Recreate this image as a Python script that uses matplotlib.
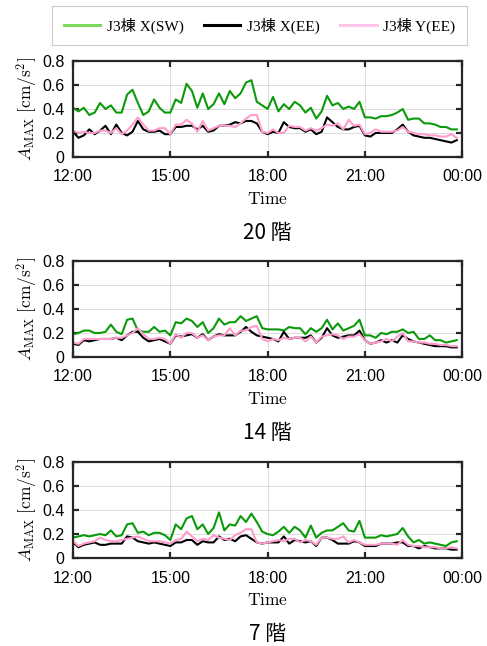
import numpy as np
import matplotlib
matplotlib.use("Agg")
import matplotlib.pyplot as plt
from matplotlib.lines import Line2D

plt.rcParams['mathtext.fontset'] = 'cm'

# 10-minute samples from 12:00 to 23:50
t = np.arange(72) / 6.0  # hours after 12:00

floors = ["20 階", "14 階", "7 階"]
series_names = ["J3棟 X(SW)", "J3棟 X(EE)", "J3棟 Y(EE)"]

f20_x_sw = [0.41, 0.38, 0.41, 0.35, 0.37, 0.45, 0.40, 0.43, 0.37, 0.37, 0.52, 0.56, 0.45, 0.35, 0.38, 0.48, 0.41, 0.37,
            0.37, 0.48, 0.45, 0.61, 0.55, 0.41, 0.53, 0.40, 0.44, 0.53, 0.44, 0.55, 0.49, 0.53, 0.62, 0.64, 0.46, 0.43,
            0.40, 0.50, 0.38, 0.44, 0.40, 0.46, 0.43, 0.37, 0.41, 0.32, 0.38, 0.51, 0.43, 0.45, 0.40, 0.42, 0.40, 0.46,
            0.33, 0.33, 0.32, 0.34, 0.34, 0.35, 0.37, 0.40, 0.31, 0.32, 0.32, 0.28, 0.28, 0.27, 0.25, 0.25, 0.23, 0.23]
f20_x_ee = [0.21, 0.16, 0.18, 0.23, 0.19, 0.22, 0.26, 0.19, 0.27, 0.20, 0.18, 0.21, 0.30, 0.23, 0.21, 0.21, 0.22, 0.19,
            0.19, 0.25, 0.25, 0.26, 0.26, 0.23, 0.26, 0.21, 0.22, 0.26, 0.26, 0.27, 0.29, 0.28, 0.30, 0.30, 0.28, 0.21,
            0.19, 0.21, 0.20, 0.29, 0.25, 0.24, 0.24, 0.21, 0.23, 0.19, 0.21, 0.33, 0.29, 0.25, 0.23, 0.23, 0.25, 0.26,
            0.18, 0.17, 0.20, 0.20, 0.20, 0.20, 0.23, 0.27, 0.21, 0.18, 0.17, 0.16, 0.16, 0.15, 0.14, 0.13, 0.12, 0.14]
f20_y_ee = [0.22, 0.20, 0.21, 0.20, 0.20, 0.22, 0.22, 0.20, 0.24, 0.19, 0.22, 0.27, 0.33, 0.27, 0.22, 0.22, 0.24, 0.24,
            0.19, 0.27, 0.27, 0.31, 0.28, 0.21, 0.30, 0.22, 0.24, 0.26, 0.26, 0.26, 0.25, 0.28, 0.32, 0.35, 0.35, 0.21,
            0.20, 0.23, 0.20, 0.20, 0.26, 0.25, 0.25, 0.22, 0.24, 0.22, 0.24, 0.27, 0.26, 0.28, 0.23, 0.31, 0.26, 0.27,
            0.19, 0.20, 0.23, 0.21, 0.21, 0.21, 0.22, 0.25, 0.21, 0.20, 0.19, 0.19, 0.18, 0.18, 0.17, 0.17, 0.19, 0.16]

f14_x_sw = [0.19, 0.20, 0.22, 0.22, 0.20, 0.20, 0.21, 0.27, 0.21, 0.19, 0.31, 0.32, 0.22, 0.21, 0.21, 0.25, 0.21, 0.22,
            0.18, 0.29, 0.28, 0.32, 0.30, 0.25, 0.29, 0.20, 0.24, 0.32, 0.27, 0.29, 0.29, 0.34, 0.30, 0.32, 0.34, 0.24,
            0.23, 0.23, 0.23, 0.22, 0.25, 0.24, 0.24, 0.19, 0.24, 0.21, 0.24, 0.31, 0.23, 0.28, 0.22, 0.24, 0.26, 0.31,
            0.18, 0.18, 0.16, 0.20, 0.19, 0.21, 0.21, 0.23, 0.20, 0.21, 0.15, 0.15, 0.18, 0.14, 0.14, 0.12, 0.13, 0.14]
f14_x_ee = [0.11, 0.10, 0.14, 0.13, 0.14, 0.15, 0.15, 0.15, 0.16, 0.14, 0.18, 0.21, 0.21, 0.16, 0.13, 0.14, 0.15, 0.13,
            0.11, 0.18, 0.17, 0.18, 0.19, 0.16, 0.19, 0.14, 0.17, 0.19, 0.18, 0.18, 0.18, 0.21, 0.25, 0.21, 0.18, 0.17,
            0.16, 0.15, 0.13, 0.21, 0.15, 0.16, 0.16, 0.16, 0.18, 0.12, 0.16, 0.24, 0.18, 0.16, 0.17, 0.18, 0.18, 0.22,
            0.14, 0.11, 0.12, 0.14, 0.12, 0.14, 0.12, 0.18, 0.15, 0.13, 0.12, 0.11, 0.10, 0.09, 0.09, 0.09, 0.08, 0.08]
f14_y_ee = [0.12, 0.11, 0.15, 0.15, 0.15, 0.15, 0.15, 0.15, 0.16, 0.16, 0.18, 0.20, 0.24, 0.19, 0.15, 0.15, 0.16, 0.15,
            0.11, 0.19, 0.16, 0.20, 0.20, 0.16, 0.18, 0.14, 0.17, 0.18, 0.18, 0.24, 0.18, 0.22, 0.22, 0.25, 0.26, 0.15,
            0.13, 0.15, 0.14, 0.16, 0.15, 0.16, 0.16, 0.13, 0.17, 0.12, 0.17, 0.18, 0.19, 0.18, 0.15, 0.17, 0.17, 0.19,
            0.14, 0.11, 0.12, 0.13, 0.15, 0.13, 0.17, 0.20, 0.13, 0.13, 0.12, 0.12, 0.11, 0.11, 0.10, 0.10, 0.09, 0.09]

f7_x_sw = [0.17, 0.18, 0.19, 0.18, 0.19, 0.20, 0.19, 0.23, 0.18, 0.19, 0.28, 0.29, 0.21, 0.22, 0.19, 0.21, 0.21, 0.19,
           0.15, 0.28, 0.24, 0.33, 0.35, 0.24, 0.28, 0.20, 0.25, 0.38, 0.23, 0.28, 0.27, 0.35, 0.30, 0.37, 0.30, 0.22,
           0.20, 0.19, 0.22, 0.26, 0.21, 0.26, 0.23, 0.17, 0.27, 0.17, 0.21, 0.23, 0.23, 0.26, 0.29, 0.23, 0.22, 0.31,
           0.17, 0.17, 0.17, 0.19, 0.18, 0.19, 0.20, 0.25, 0.18, 0.13, 0.15, 0.12, 0.13, 0.12, 0.11, 0.10, 0.13, 0.14]
f7_x_ee = [0.13, 0.09, 0.11, 0.12, 0.13, 0.11, 0.11, 0.12, 0.12, 0.12, 0.18, 0.17, 0.14, 0.13, 0.12, 0.13, 0.12, 0.11,
           0.10, 0.13, 0.13, 0.15, 0.15, 0.11, 0.14, 0.13, 0.13, 0.18, 0.15, 0.16, 0.14, 0.18, 0.19, 0.16, 0.13, 0.12,
           0.13, 0.13, 0.13, 0.18, 0.12, 0.15, 0.14, 0.13, 0.14, 0.10, 0.17, 0.17, 0.15, 0.12, 0.12, 0.12, 0.14, 0.13,
           0.10, 0.10, 0.10, 0.12, 0.12, 0.12, 0.13, 0.13, 0.10, 0.10, 0.08, 0.10, 0.09, 0.08, 0.08, 0.08, 0.07, 0.07]
f7_y_ee = [0.14, 0.10, 0.12, 0.13, 0.14, 0.17, 0.15, 0.14, 0.14, 0.15, 0.16, 0.17, 0.18, 0.16, 0.14, 0.14, 0.14, 0.13,
           0.12, 0.15, 0.16, 0.22, 0.18, 0.14, 0.16, 0.15, 0.19, 0.17, 0.16, 0.15, 0.19, 0.21, 0.24, 0.24, 0.13, 0.12,
           0.13, 0.14, 0.15, 0.14, 0.16, 0.16, 0.13, 0.15, 0.14, 0.11, 0.17, 0.17, 0.16, 0.16, 0.18, 0.13, 0.15, 0.13,
           0.11, 0.11, 0.11, 0.12, 0.12, 0.12, 0.11, 0.15, 0.11, 0.10, 0.10, 0.09, 0.09, 0.09, 0.08, 0.08, 0.09, 0.08]

panels = [
    [f20_x_sw, f20_x_ee, f20_y_ee],
    [f14_x_sw, f14_x_ee, f14_y_ee],
    [f7_x_sw, f7_x_ee, f7_y_ee],
]

line_colors = ["#0a9a0a", "#000000", "#ff9ccc"]
legend_colors = ["#7ed860", "#000000", "#ffc4ea"]

xticks = [0, 3, 6, 9, 12]
xticklabels = ["12:00", "15:00", "18:00", "21:00", "00:00"]
yticks = [0, 0.2, 0.4, 0.6, 0.8]
yticklabels = ["0", "0.2", "0.4", "0.6", "0.8"]

fig = plt.figure(figsize=(4.87, 6.46), dpi=100)

bottoms = [0.757, 0.4474, 0.1362]
for k, data in enumerate(panels):
    ax = fig.add_axes([0.150, bottoms[k], 0.799, 0.1486])
    for vals, c in zip(data, line_colors):
        ax.plot(t, vals, color=c, lw=1.5)
    ax.set_xlim(0, 12)
    ax.set_ylim(0, 0.8)
    ax.set_xticks(xticks)
    ax.set_xticklabels(xticklabels, family="Liberation Sans", fontsize=11.5)
    ax.set_yticks(yticks)
    ax.set_yticklabels(yticklabels, family="Liberation Sans", fontsize=11.5)
    ax.grid(True, color="#dcdcdc", lw=0.7)
    ax.tick_params(direction="in", top=True, right=True, length=4, width=1.6,
                   color="#262626")
    ax.tick_params(axis="x", pad=9)
    ax.tick_params(axis="y", pad=6)
    for s in ax.spines.values():
        s.set_linewidth(1.6)
        s.set_color("#262626")
    ax.set_xlabel(r"$\mathrm{Time}$", fontsize=12.5, labelpad=4)
    ax.set_ylabel(r"$A_{\mathrm{MAX}}\ [\mathrm{cm/s^2}]$", fontsize=12.5, labelpad=2)
    ax.text(0.5, -0.79, floors[k], transform=ax.transAxes, ha="center", va="center",
            fontsize=15, family=["Noto Sans CJK JP", "DejaVu Sans"])

handles = [Line2D([], [], color=c, lw=2.2) for c in legend_colors]
leg = fig.legend(handles, series_names, loc="center", bbox_to_anchor=(0.533, 0.96),
                 ncol=3, frameon=True, fancybox=False, edgecolor="#bdbdbd",
                 prop={"family": ["Liberation Serif", "Noto Sans CJK JP"], "size": 11},
                 handlelength=2.4, columnspacing=1.3, borderpad=0.75, handletextpad=0.45)
leg.get_frame().set_linewidth(0.8)

fig.savefig("out.png", dpi=100)
